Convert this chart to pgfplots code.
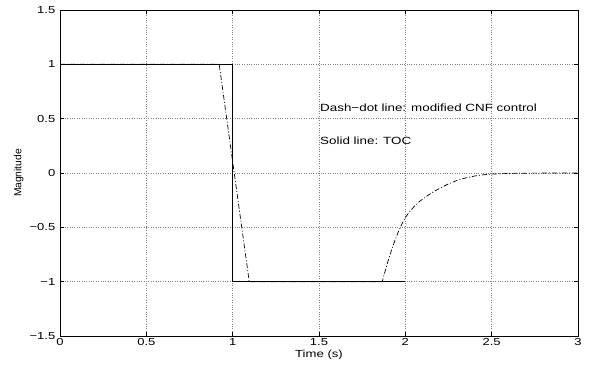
\documentclass[border=0pt]{standalone}
\usepackage{fontspec}
\setmainfont{Liberation Sans}[FakeStretch=1.28]
\newfontfamily\plainfont{Liberation Sans}
\usepackage{pgfplots}
\pgfplotsset{compat=1.18}
\begin{document}
\fontsize{10.5}{12}\selectfont
\begin{tikzpicture}
\begin{axis}[
  scale only axis,
  width=518bp, height=326bp,
  xmin=0, xmax=3, ymin=-1.5, ymax=1.5,
  xtick={0,0.5,1,1.5,2,2.5,3},
  xticklabels={0,0.5,1,1.5,2,2.5,3},
  ytick={-1.5,-1,-0.5,0,0.5,1,1.5},
  yticklabels={−1.5,−1,−0.5,0,0.5,1,1.5},
  tick align=inside,
  xtick pos=both, ytick pos=both,
  major tick length=4bp,
  tick style={black, line width=0.5pt},
  grid=major,
  major grid style={dotted, gray, line width=0.5pt},
  axis line style={black, line width=0.7pt},
  xlabel={Time (s)},
  ylabel={\plainfont Magnitude},
  xlabel style={yshift=2.5bp},
  ylabel style={yshift=-1bp},
  x tick label style={yshift=1bp},
  y tick label style={xshift=-1bp},
  tick label style={font=\fontsize{10.2}{11}\selectfont},
  label style={font=\fontsize{10.3}{11}\selectfont},
]
\addplot[black, line width=0.7pt] coordinates {
  (0,1) (1,1) (1,-1) (2,-1)
};
\addplot[black, line width=0.7pt, dash pattern=on 5bp off 2bp on 1bp off 2bp] coordinates {
  (0,1) (0.922,1) (1.096,-1) (1.866,-1)
  (1.88,-0.92) (1.90,-0.81) (1.92,-0.71) (1.94,-0.62) (1.96,-0.54) (1.98,-0.47)
  (2.0,-0.41) (2.02,-0.365) (2.05,-0.31) (2.08,-0.265) (2.1,-0.24) (2.15,-0.185)
  (2.2,-0.14) (2.25,-0.10) (2.3,-0.068) (2.35,-0.045) (2.4,-0.028) (2.45,-0.017)
  (2.5,-0.010) (2.6,-0.004) (2.7,-0.0015) (2.85,-0.0005) (3,0)
};
\node[anchor=west, inner sep=0pt] at (axis cs:1.506,0.6) {Dash−dot line: modified CNF control};
\node[anchor=west, inner sep=0pt] at (axis cs:1.506,0.3) {Solid line: TOC};
\end{axis}
\pgfresetboundingbox
\path[use as bounding box] ([xshift=-60bp,yshift=-33bp]current axis.south west) rectangle ([xshift=11bp,yshift=10bp]current axis.north east);
\end{tikzpicture}
\end{document}
